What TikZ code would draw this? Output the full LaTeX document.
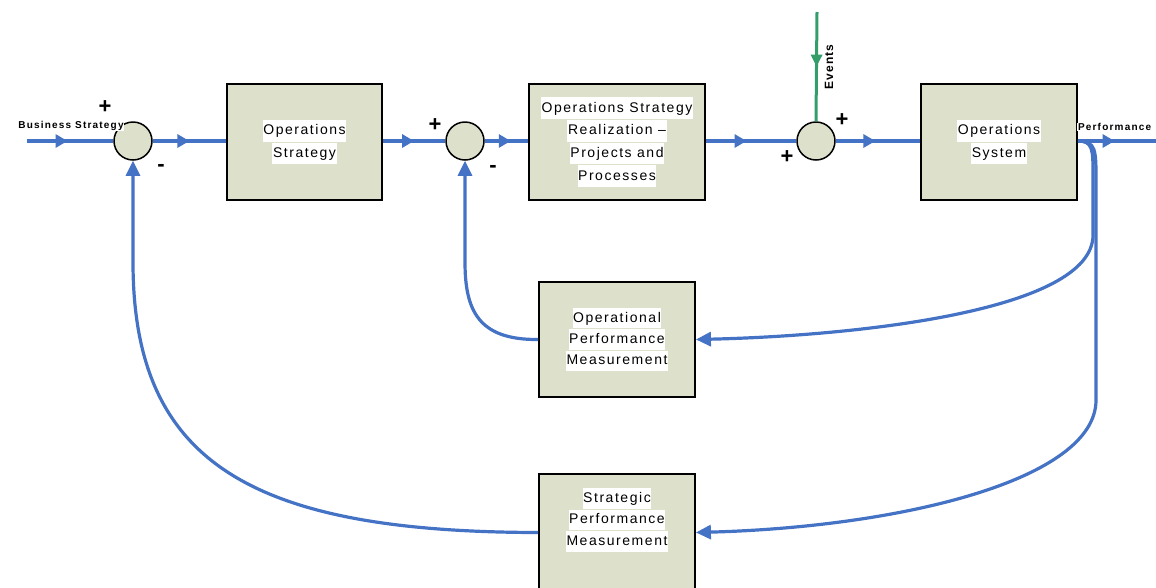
\documentclass[tikz,border=0pt]{standalone}
\usepackage{fontspec}
\setmainfont{Liberation Sans}
\usetikzlibrary{arrows.meta,decorations.markings}
\definecolor{flow}{RGB}{68,114,196}
\definecolor{evt}{RGB}{52,158,106}
\definecolor{boxfill}{RGB}{221,225,204}
% one line of block text on a white band
\newcommand\wline[1]{{\setlength{\fboxsep}{0.6pt}\colorbox{white}{\strut #1}}}
\begin{document}
\begin{tikzpicture}[x=1pt,y=-1pt,
  block/.style={draw=black,line width=1.8pt,fill=boxfill,align=center,inner sep=0,
    font=\fontsize{14}{20.5}\selectfont\addfontfeatures{LetterSpace=11}},
  sum/.style={circle,draw=black,line width=1.5pt,fill=boxfill,minimum size=38pt,inner sep=0},
  signal/.style={draw=flow,line width=3.2pt},
  midarrow/.style={postaction={decorate},decoration={markings,
    mark=at position #1 with {\arrow[flow]{Triangle[length=12pt,width=13pt]}}}},
  evtarrow/.style={postaction={decorate},decoration={markings,
    mark=at position #1 with {\arrow[evt]{Triangle[length=12pt,width=11pt]}}}},
  endtip/.style={-{Triangle[length=15pt,width=14pt]}},
  sign/.style={font=\bfseries\fontsize{22}{22}\selectfont,inner sep=0},
  lbl/.style={fill=white,inner sep=0.8pt,font=\bfseries\fontsize{10}{10}\selectfont\addfontfeatures{LetterSpace=12}}
]
\useasboundingbox (0,0) rectangle (1156,587);

% summing junctions
\node[sum] (c1) at (133,141) {};
\node[sum] (c2) at (465,141) {};
\node[sum] (c3) at (816,141) {};

% blocks
\node[block,minimum width=155pt,minimum height=116pt] (os) at (304.5,142)
  {\wline{Operations}\\\wline{Strategy}};
\node[block,minimum width=176pt,minimum height=116pt] (real) at (617,142)
  {\wline{Operations Strategy}\\\wline{Realization --}\\\wline{Projects and}\\\wline{Processes}};
\node[block,minimum width=156pt,minimum height=116pt] (sys) at (999,142)
  {\wline{Operations}\\\wline{System}};
\node[block,minimum width=156pt,minimum height=115pt,
  font=\fontsize{14}{19}\selectfont\addfontfeatures{LetterSpace=11}] (opm) at (617,339.5)
  {\wline{Operational}\\\wline{Performance}\\\wline{Measurement}};
\node[block,minimum width=156pt,minimum height=117pt,
  font=\fontsize{14}{19.5}\selectfont\addfontfeatures{LetterSpace=11}] (spm) at (617,532.5)
  {\wline{Strategic}\\\wline{Performance}\\\wline{Measurement}\\[12pt]};

% free ends
\coordinate (in) at (27,141);
\coordinate (out) at (1156,141);
\coordinate (ev) at (817,12);

% forward path
\draw[signal,midarrow=0.47] (in) -- (c1.west);
\draw[signal,midarrow=0.5] (c1.east) -- (c1.east -| os.west);
\draw[signal,midarrow=0.5] (os.east |- c2) -- (c2.west);
\draw[signal,midarrow=0.6] (c2.east) -- (c2.east -| real.west);
\draw[signal,midarrow=0.45] (real.east |- c3) -- (c3.west);
\draw[signal,midarrow=0.47] (c3.east) -- (c3.east -| sys.west);
\draw[signal,midarrow=0.47] (sys.east |- out) -- (out);
\draw[draw=evt,line width=3pt,evtarrow=0.5] (ev) -- (c3.north);

% feedback loops
\draw[signal,endtip] (sys.east |- out) .. controls (1093,141) and (1093,150) .. (1093,175)
  -- (1093,235) .. controls (1093,312) and (850,336) .. (opm.east);
\draw[signal,endtip] (sys.east |- out) .. controls (1096,141) and (1096,150) .. (1096,180)
  -- (1096,400) .. controls (1096,480) and (900,527) .. (spm.east);
\draw[signal,endtip] (opm.west) .. controls (478,340) and (465,310) .. (465,262) -- (c2.south);
\draw[signal,endtip] (spm.west) .. controls (250,532) and (133,462) .. (133,262) -- (c1.south);

% signal labels
\node[lbl] (bs) at (71,126) {Business Strategy};
\node[lbl,anchor=west] (perf) at (1077,127) {Performance};
\node[lbl,rotate=90,font=\bfseries\fontsize{12}{12}\selectfont\addfontfeatures{LetterSpace=8}] (evl) at (829,67) {Events};

% junction signs
\node[sign] (p1) at (105,107) {+};
\node[sign] (m1) at (161,168) {-};
\node[sign] (p2) at (435,125) {+};
\node[sign] (m2) at (493,169) {-};
\node[sign] (p3) at (787,157) {+};
\node[sign] (p4) at (842,120) {+};
\end{tikzpicture}
\end{document}
